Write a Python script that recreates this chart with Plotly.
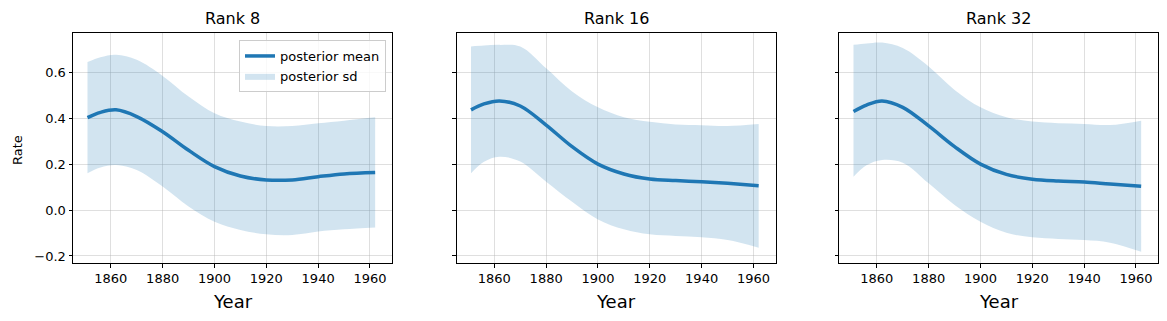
import plotly.graph_objects as go

# Datos
years = [1851, 1856, 1862, 1870, 1880, 1890, 1900, 1910, 1920, 1930, 1940, 1950, 1962]
ranks = ["Rank 8", "Rank 16", "Rank 32"]

mean_r8 = [0.402, 0.425, 0.436, 0.407, 0.341, 0.260, 0.189, 0.148, 0.131, 0.131, 0.145, 0.157, 0.163]
upper_r8 = [0.644, 0.665, 0.676, 0.654, 0.584, 0.494, 0.421, 0.385, 0.366, 0.366, 0.378, 0.389, 0.404]
lower_r8 = [0.160, 0.185, 0.196, 0.174, 0.102, 0.015, -0.051, -0.087, -0.106, -0.109, -0.094, -0.084, -0.076]

mean_r16 = [0.436, 0.462, 0.475, 0.453, 0.370, 0.276, 0.200, 0.157, 0.135, 0.128, 0.123, 0.116, 0.106]
upper_r16 = [0.712, 0.716, 0.719, 0.712, 0.617, 0.516, 0.447, 0.404, 0.384, 0.372, 0.369, 0.366, 0.375]
lower_r16 = [0.160, 0.210, 0.232, 0.211, 0.123, 0.036, -0.041, -0.084, -0.106, -0.113, -0.119, -0.131, -0.164]

mean_r32 = [0.429, 0.457, 0.475, 0.447, 0.366, 0.276, 0.200, 0.155, 0.134, 0.126, 0.122, 0.113, 0.103]
upper_r32 = [0.719, 0.725, 0.729, 0.705, 0.625, 0.523, 0.447, 0.404, 0.385, 0.378, 0.375, 0.370, 0.389]
lower_r32 = [0.145, 0.195, 0.218, 0.206, 0.116, 0.022, -0.051, -0.099, -0.119, -0.126, -0.131, -0.142, -0.182]

means = [mean_r8, mean_r16, mean_r32]
uppers = [upper_r8, upper_r16, upper_r32]
lowers = [lower_r8, lower_r16, lower_r32]

W, H = 1167, 321
OFF = 8  # margen del body del html
BLUE = '#1f77b4'
BAND = 'rgba(31,119,180,0.2)'
FONT = 'DejaVu Sans'


def px_x(p):
    return (p - OFF) / W


def px_y(p):
    return 1 - (p - OFF) / H


# posiciones de los paneles en pixeles (izq, der)
panels_px = [(73, 392), (456.5, 775.5), (839, 1158)]
y_dom = [px_y(263.3), px_y(32.7)]

fig = go.Figure()

for i in range(3):
    ax = '' if i == 0 else str(i + 1)
    xa, ya = 'x' + ax, 'y' + ax
    # banda sd
    fig.add_trace(go.Scatter(
        x=years, y=lowers[i], mode='lines', line=dict(width=0, shape='spline'),
        xaxis=xa, yaxis=ya, showlegend=False, hoverinfo='skip'
    ))
    fig.add_trace(go.Scatter(
        x=years, y=uppers[i], mode='lines', line=dict(width=0, shape='spline'),
        fill='tonexty', fillcolor=BAND, name='posterior sd',
        xaxis=xa, yaxis=ya, showlegend=(i == 0)
    ))
    # media
    fig.add_trace(go.Scatter(
        x=years, y=means[i], mode='lines', line=dict(color=BLUE, width=3.5, shape='spline'),
        name='posterior mean', xaxis=xa, yaxis=ya, showlegend=(i == 0)
    ))

axis_common = dict(
    showline=True, linecolor='black', linewidth=1, mirror=True,
    ticks='outside', ticklen=3.5, tickcolor='black', tickwidth=1,
    showgrid=True, gridcolor='rgba(176,176,176,0.4)', gridwidth=1,
    zeroline=False, tickfont=dict(size=13, color='black', family=FONT),
)

layout = dict(
    width=W, height=H,
    margin=dict(l=0, r=0, t=0, b=0),
    plot_bgcolor='white', paper_bgcolor='white',
    font=dict(family=FONT, color='black'),
    legend=dict(
        x=px_x(386), y=px_y(40), xanchor='right', yanchor='top',
        traceorder='reversed', itemwidth=30,
        bgcolor='rgba(255,255,255,0.8)', bordercolor='#cccccc', borderwidth=1,
        font=dict(size=13, family=FONT), tracegroupgap=0,
    ),
    annotations=[],
)

for i, (l, r) in enumerate(panels_px):
    ax = '' if i == 0 else str(i + 1)
    layout['xaxis' + ax] = dict(
        axis_common, domain=[px_x(l), px_x(r)], anchor='y' + ax,
        range=[1845.4, 1968.5], tickvals=[1860, 1880, 1900, 1920, 1940, 1960],
    )
    layout['yaxis' + ax] = dict(
        axis_common, domain=y_dom, anchor='x' + ax,
        range=[-0.232, 0.772], tickvals=[-0.2, 0.0, 0.2, 0.4, 0.6],
        ticktext=['−0.2', '0.0', '0.2', '0.4', '0.6'],
        showticklabels=(i == 0),
    )
    cx = px_x((l + r) / 2)
    layout['annotations'].append(dict(
        text=ranks[i], x=cx, y=px_y(18), xref='paper', yref='paper',
        xanchor='center', yanchor='middle',
        showarrow=False, font=dict(size=16, family=FONT)
    ))
    layout['annotations'].append(dict(
        text='Year', x=cx, y=px_y(301), xref='paper', yref='paper',
        xanchor='center', yanchor='middle',
        showarrow=False, font=dict(size=18, family=FONT)
    ))

layout['annotations'].append(dict(
    text='Rate', x=px_x(17), y=px_y(150), xref='paper', yref='paper',
    xanchor='center', yanchor='middle',
    showarrow=False, textangle=-90, font=dict(size=13, family=FONT)
))

fig.update_layout(**layout)

fig.write_html("out.html")
